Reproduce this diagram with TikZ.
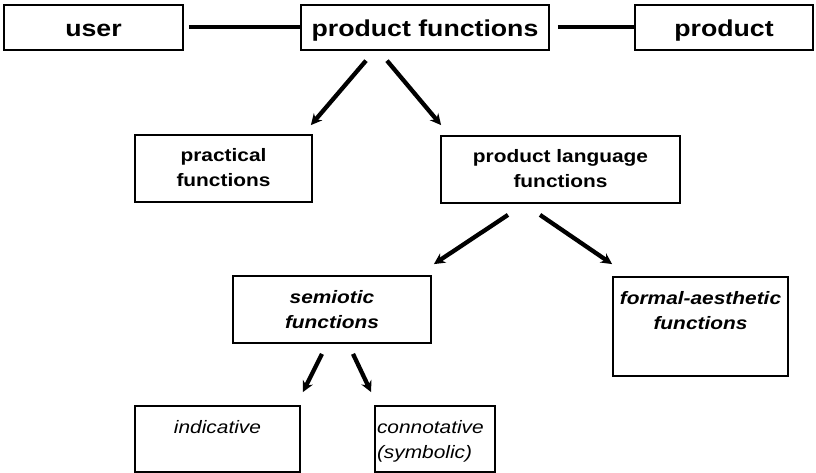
\documentclass[tikz,border=0pt]{standalone}
\usepackage{fontspec}
\setmainfont[FakeStretch=1.16]{Liberation Sans}
\usetikzlibrary{arrows.meta,calc}

% text block hung from the top of its box
\newcommand{\toptext}[4][\centering]{\parbox[c][#3][t]{#2}{#1\rule{0pt}{27pt}#4}}

\begin{document}
\begin{tikzpicture}[x=1pt, y=-1pt,
  box/.style={draw, line width=1.8pt, inner sep=0pt},
  topbox/.style={box, font=\bfseries\fontsize{23}{27}\selectfont,
    text height=22pt, text depth=4.5pt, minimum height=44.5pt},
  midbox/.style={box, font=\bfseries\fontsize{18}{25}\selectfont},
  semibox/.style={box, font=\bfseries\itshape\fontsize{18}{25}\selectfont},
  lowbox/.style={box, font=\itshape\fontsize{18}{25}\selectfont},
  link/.style={line width=4pt},
  arr/.style={-{Stealth[length=11pt,width=11pt]}, line width=4.3pt},
]
\useasboundingbox (0,0) rectangle (816,473);

% ---- top row ----
\node[topbox, minimum width=179pt] (user) at (93.5,27.5) {user};
\node[topbox, minimum width=248pt] (pf) at (425,27.5) {product functions};
\node[topbox, minimum width=178pt] (prod) at (724,27.5) {product};

\draw[link, shorten <=5pt] (user) -- (pf);
\draw[link, shorten <=8pt] (pf) -- (prod);

% ---- second row ----
\node[midbox] (prac) at (223.5,168.5)
  {\toptext{177pt}{67pt}{practical\\functions}};
\node[midbox] (plf) at (560.5,169.5)
  {\toptext{239pt}{67pt}{product language\\functions}};

% ---- third row ----
\node[semibox] (sem) at (332,309.5)
  {\toptext{198pt}{67pt}{semiotic\\functions}};
\node[semibox] (formal) at (700.5,326.5)
  {\toptext{175pt}{99pt}{formal-aesthetic\\functions}};

% ---- bottom row ----
\node[lowbox] (ind) at (217.5,439)
  {\toptext{165pt}{66pt}{indicative}};
\node[lowbox] (con) at (435,439)
  {\toptext[\raggedright\leftskip=2pt]{120pt}{66pt}{connotative\\(symbolic)}};

% ---- arrows ----
\draw[arr] ($(pf.south)+(-59,10)$) -- ($(prac.north east)+(-2,-9)$);
\draw[arr] ($(pf.south)+(-38,10)$) -- ($(plf.north west)+(1,-10)$);
\draw[arr] ($(plf.south)+(-52.5,11)$) -- ($(sem.north east)+(2,-11)$);
\draw[arr] ($(plf.south)+(-20.5,11)$) -- ($(formal.north west)+(0,-12)$);
\draw[arr] ($(sem.south)+(-10,10)$) -- ($(ind.north east)+(2,-13)$);
\draw[arr] ($(sem.south)+(21,10)$) -- ($(con.north west)+(-3,-13)$);

\end{tikzpicture}
\end{document}
